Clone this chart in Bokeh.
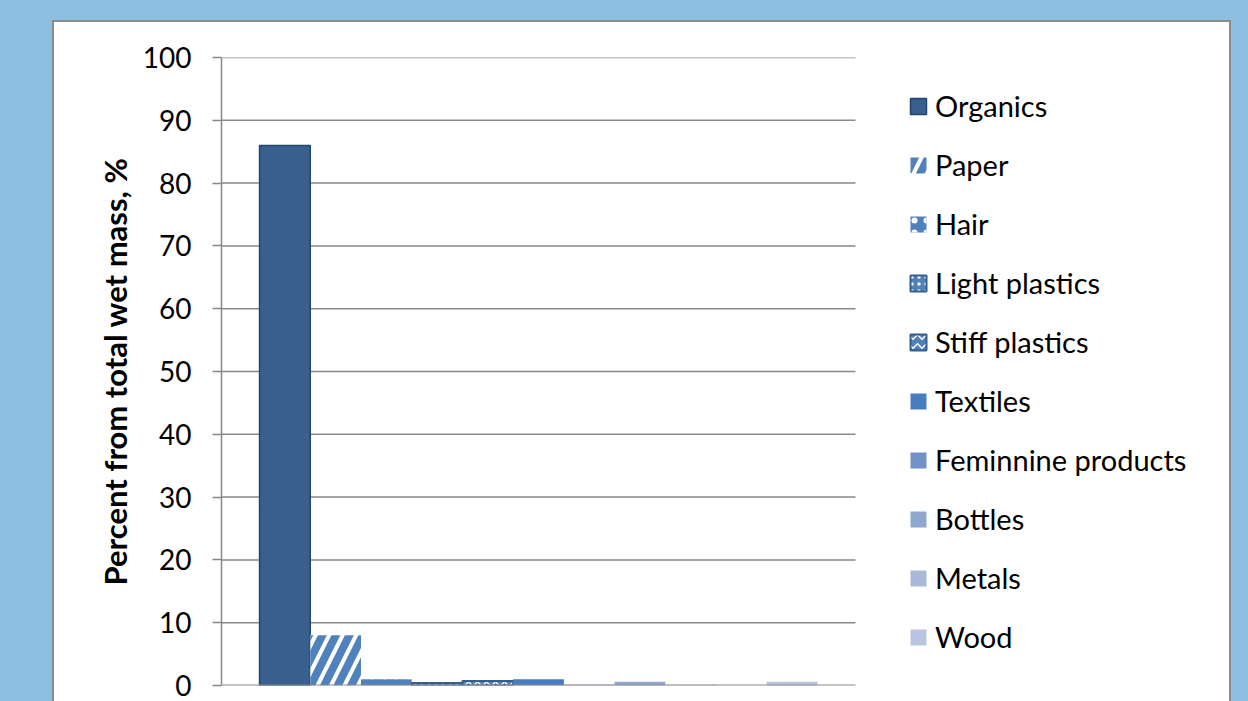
from bokeh.plotting import figure
from bokeh.models import Range1d, Legend, LegendItem, FixedTicker
from bokeh.layouts import column
from bokeh.embed import file_html
from bokeh.resources import INLINE

# ---- data ----
materials = ["Organics", "Paper", "Hair", "Light plastics", "Stiff plastics", "Textiles",
             "Feminnine products", "Bottles", "Metals", "", "Wood"]
percent = [86.0, 8.0, 1.0, 0.4, 0.7, 1.0, 0.1, 0.6, 0.1, 0.0, 0.6]
y_ticks = [0, 10, 20, 30, 40, 50, 60, 70, 80, 90, 100]
y_title = "Percent from total wet mass, %"

# ---- styles ----
styles = {
    "Organics": dict(fill_color="#385F8E", line_color="#24446C", line_width=1.5),
    "Paper": dict(fill_color="white", hatch_pattern="/", hatch_color="#4F81BD",
                  hatch_weight=8, hatch_scale=27, line_color=None),
    "Hair": dict(fill_color="#4F81BD", hatch_pattern=".", hatch_color="white",
                 hatch_weight=4, hatch_scale=12, line_color=None),
    "Light plastics": dict(fill_color="#4F81BD", hatch_pattern=".", hatch_color="white",
                           hatch_weight=3, hatch_scale=7, line_color="#385D8A", line_width=2),
    "Stiff plastics": dict(fill_color="#4F81BD", hatch_pattern="v", hatch_color="white",
                           hatch_weight=1.5, hatch_scale=9, line_color="#385D8A", line_width=2),
    "Textiles": dict(fill_color="#467DBE", line_color=None),
    "Feminnine products": dict(fill_color="#7092C6", line_color=None),
    "Bottles": dict(fill_color="#91A8CE", line_color=None),
    "Metals": dict(fill_color="#AAB9D7", line_color=None),
    "Wood": dict(fill_color="#B9C4E1", line_color=None),
}

FONT = "Lato"
GRAY = "#898989"

# ---- layout (pixels, canvas-relative) ----
FIG_W, FIG_H = 1179, 681
FRAME_L, FRAME_T = 167, 35
FRAME_H = 628
BAR_AREA_W = 634                  # plot-area width holding the bars
FRAME_B = FIG_H - FRAME_T - FRAME_H

x_end = (FIG_W - FRAME_L) / BAR_AREA_W

n = len(materials)
gap = 1.5  # Excel gap width 150%
bw = 1.0 / (n + gap)

p = figure(width=FIG_W, height=FIG_H, output_backend="svg", toolbar_location=None,
           x_range=Range1d(0, x_end), y_range=Range1d(0, 100),
           min_border_left=FRAME_L, min_border_top=FRAME_T, min_border_right=0,
           min_border_bottom=FRAME_B)
p.background_fill_color = "white"
p.border_fill_color = "white"
p.outline_line_color = None

# horizontal grid lines restricted to the bar area (0..1)
p.segment(x0=0, x1=1, y0=y_ticks[1:], y1=y_ticks[1:], line_color=GRAY, line_width=1.5)

items = []
for i, (name, val) in enumerate(zip(materials, percent)):
    if not name:
        continue
    xc = bw * (gap / 2 + i + 0.5)
    r = p.vbar(x=[xc], top=[val], bottom=0, width=bw, **styles[name])
    items.append(LegendItem(label=name, renderers=[r]))

# category axis line at 0
p.segment(x0=[0], x1=[1], y0=[0], y1=[0], line_color=GRAY, line_width=2)

legend = Legend(items=items, location=(687, 31))
legend.border_line_color = None
legend.background_fill_alpha = 0
legend.label_text_font = FONT
legend.label_text_font_size = "29px"
legend.label_text_color = "black"
legend.glyph_width = 20
legend.glyph_height = 20
legend.label_standoff = 7
legend.padding = 0
legend.margin = 0
legend.spacing = 24
p.add_layout(legend)

# y axis
p.yaxis.ticker = FixedTicker(ticks=y_ticks)
p.yaxis.axis_line_color = GRAY
p.yaxis.axis_line_width = 1.5
p.yaxis.major_tick_line_color = GRAY
p.yaxis.major_tick_line_width = 1.5
p.yaxis.major_tick_out = 9
p.yaxis.major_tick_in = 0
p.yaxis.minor_tick_line_color = None
p.yaxis.major_label_text_font = FONT
p.yaxis.major_label_text_font_size = "28px"
p.yaxis.major_label_text_color = "black"
p.yaxis.major_label_standoff = 21
p.yaxis.axis_label = y_title
p.yaxis.axis_label_text_font = FONT
p.yaxis.axis_label_text_font_size = "31px"
p.yaxis.axis_label_text_font_style = "bold"
p.yaxis.axis_label_text_color = "black"
p.yaxis.axis_label_standoff = 6

p.xaxis.visible = False
p.xgrid.grid_line_color = None
p.ygrid.grid_line_color = None

p.margin = (20, 0, 0, 52)
p.styles = {"border": "2px solid #8c8c8c", "border-bottom": "none",
            "background-color": "white"}

page = column(p, width=1248, height=701, sizing_mode="fixed",
              styles={"background-color": "#8DBFE2", "overflow": "hidden"})

open("out.html", "w").write(file_html(page, INLINE))
